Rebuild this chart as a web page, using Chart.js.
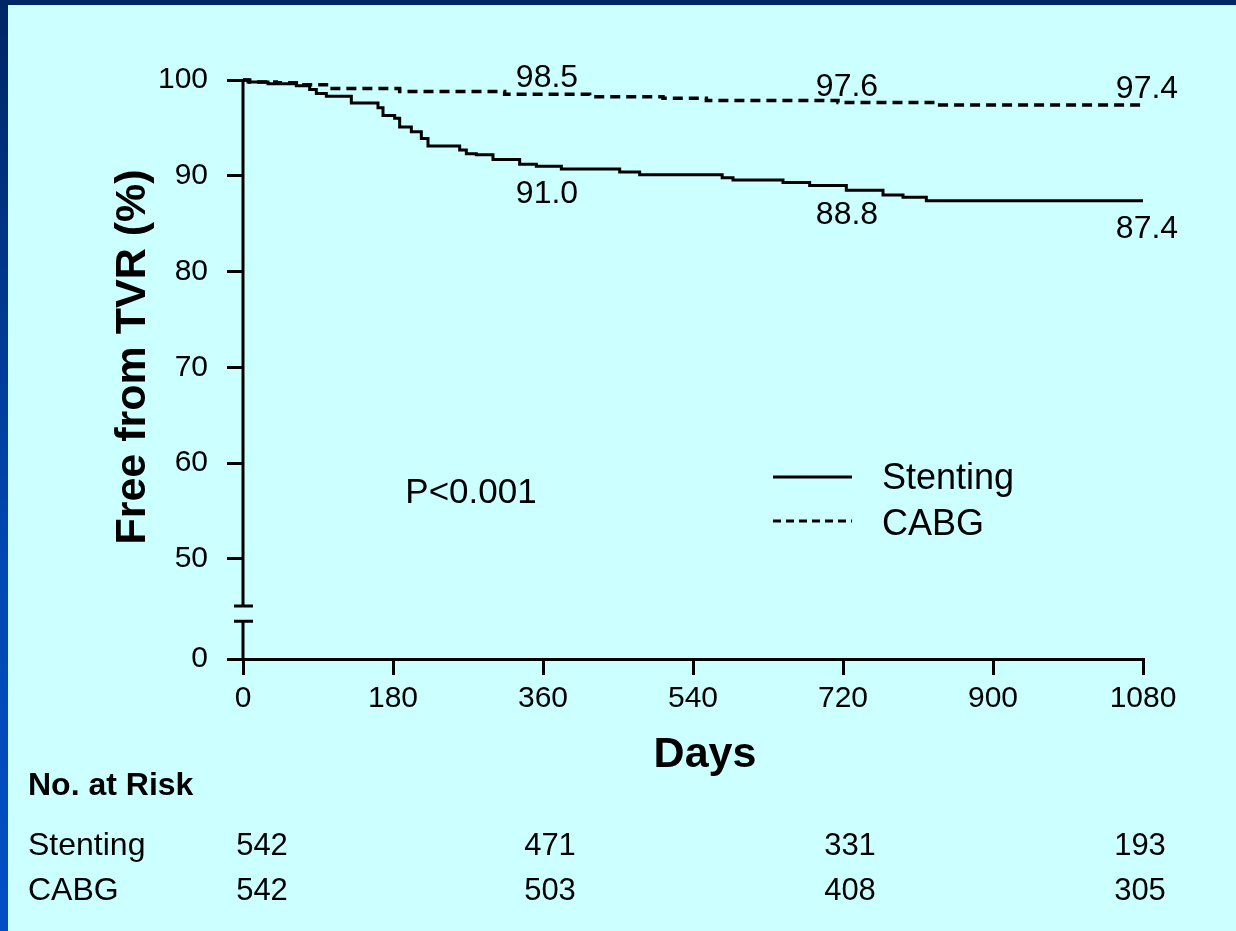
<!DOCTYPE html>
<html>
<head>
<meta charset="utf-8">
<script src="https://cdn.jsdelivr.net/npm/chart.js@4.4.1/dist/chart.umd.min.js"></script>
<style>
    html, body { margin: 0; padding: 0; }
    body { width: 1236px; height: 931px; background: #ccffff; position: relative; overflow: hidden; }
    #topBar { position: absolute; left: 0; top: 0; width: 1236px; height: 5px; background: #002664; z-index: 2; }
    #leftBar { position: absolute; left: 0; top: 0; width: 8px; height: 931px; background: linear-gradient(#002664, #0048b4 60%, #0050c4); z-index: 2; }
    #chart { position: absolute; left: 0; top: 0; }
</style>
</head>
<body>
<div id="topBar"></div>
<div id="leftBar"></div>
<canvas id="chart" width="1236" height="931"></canvas>
<script>
// Kaplan-Meier curves: [day, % free from TVR]
const stentingDays = [0, 6, 30, 64, 80, 88, 100, 130, 162, 168, 182, 188, 202, 214, 222, 260, 268, 280, 300, 332, 352, 382, 452, 476, 575, 588, 648, 680, 724, 768, 792, 820, 1080];
const stentingFree = [100, 99.8, 99.6, 99.4, 99.0, 98.6, 98.3, 97.6, 97.1, 96.3, 96.0, 95.1, 94.6, 93.9, 93.1, 92.7, 92.3, 92.2, 91.7, 91.2, 91.0, 90.7, 90.4, 90.1, 89.8, 89.55, 89.3, 89.0, 88.5, 88.0, 87.75, 87.4, 87.4];

const cabgDays = [0, 8, 40, 64, 104, 188, 314, 416, 504, 556, 714, 836, 1080];
const cabgFree = [100, 99.8, 99.7, 99.5, 99.1, 98.8, 98.5, 98.25, 98.1, 97.85, 97.65, 97.4, 97.4];

// labelled survival values
const labelDays = [360, 720, 1080];
const stentingLabels = [91.0, 88.8, 87.4];
const cabgLabels = [98.5, 97.6, 97.4];

// axis ticks
const xTicks = [0, 180, 360, 540, 720, 900, 1080];
const yTicks = [50, 60, 70, 80, 90, 100];
const yZero = 39.56; // the broken axis puts "0" one step under 50

// numbers at risk
const riskDays = [0, 360, 720, 1080];
const stentingRisk = [542, 471, 331, 193];
const cabgRisk = [542, 503, 408, 305];

const FONT = "'Liberation Sans', Arial, sans-serif";
const riskOffset = [19, 7, 7, -3];

function toPoints(days, vals) {
    return days.map((d, i) => ({ x: d, y: vals[i] }));
}

const extras = {
    id: 'extras',
    afterDraw(chart) {
        const ctx = chart.ctx;
        const xs = chart.scales.x;
        const ys = chart.scales.y;
        const ax = xs.getPixelForValue(0);
        ctx.save();
        ctx.strokeStyle = '#000';
        ctx.lineWidth = 3;

        // y axis line with a break
        const b1 = ys.getPixelForValue(45.1);
        const b2 = ys.getPixelForValue(43.5);
        ctx.beginPath();
        ctx.moveTo(ax, ys.getPixelForValue(100) - 1);
        ctx.lineTo(ax, b1);
        ctx.moveTo(ax, b2);
        ctx.lineTo(ax, ys.getPixelForValue(yZero));
        ctx.moveTo(ax - 9, b1);
        ctx.lineTo(ax + 10, b1);
        ctx.moveTo(ax - 9, b2);
        ctx.lineTo(ax + 10, b2);
        ctx.stroke();

        ctx.fillStyle = '#000';
        ctx.font = '32px ' + FONT;
        ctx.textAlign = 'center';
        ctx.textBaseline = 'middle';
        labelDays.forEach((d, i) => {
            const px = xs.getPixelForValue(d);
            ctx.fillText(cabgLabels[i].toFixed(1), px + 4, ys.getPixelForValue(cabgLabels[i]) - 16);
            ctx.fillText(stentingLabels[i].toFixed(1), px + 4, ys.getPixelForValue(stentingLabels[i]) + 28);
        });

        ctx.font = '35px ' + FONT;
        ctx.fillText('P<0.001', 471, 493);

        // legend
        ctx.beginPath();
        ctx.moveTo(773, 477);
        ctx.lineTo(852, 477);
        ctx.stroke();
        ctx.setLineDash([8, 5]);
        ctx.beginPath();
        ctx.moveTo(773, 521);
        ctx.lineTo(852, 521);
        ctx.stroke();
        ctx.setLineDash([]);
        ctx.textAlign = 'left';
        ctx.font = '36px ' + FONT;
        ctx.fillText('Stenting', 882, 479);
        ctx.fillText('CABG', 882, 525);

        // axis titles
        ctx.font = 'bold 43px ' + FONT;
        ctx.textAlign = 'center';
        ctx.fillText('Days', 705, 755);
        ctx.save();
        ctx.translate(133, 357);
        ctx.rotate(-Math.PI / 2);
        ctx.fillText('Free from TVR (%)', 0, 0);
        ctx.restore();

        // risk table
        ctx.textAlign = 'left';
        ctx.font = 'bold 32px ' + FONT;
        ctx.fillText('No. at Risk', 28, 786);
        ctx.font = '32px ' + FONT;
        ctx.fillText('Stenting', 28, 846);
        ctx.fillText('CABG', 28, 891);
        ctx.font = '31px ' + FONT;
        ctx.textAlign = 'center';
        riskDays.forEach((d, i) => {
            const px = xs.getPixelForValue(d) + riskOffset[i];
            ctx.fillText(String(stentingRisk[i]), px, 846);
            ctx.fillText(String(cabgRisk[i]), px, 891);
        });
        ctx.restore();
    }
};

new Chart(document.getElementById('chart').getContext('2d'), {
    type: 'line',
    data: {
        datasets: [{
            label: 'Stenting',
            data: toPoints(stentingDays, stentingFree),
            borderColor: '#000',
            borderWidth: 3,
            stepped: true,
            pointRadius: 0,
            fill: false,
            clip: 6
        }, {
            label: 'CABG',
            data: toPoints(cabgDays, cabgFree),
            borderColor: '#000',
            borderWidth: 3.5,
            borderDash: [10, 6],
            stepped: true,
            pointRadius: 0,
            fill: false,
            clip: 6
        }]
    },
    options: {
        responsive: false,
        animation: false,
        events: [],
        layout: { padding: { top: 80, right: 93, left: 0, bottom: 0 } },
        plugins: {
            legend: { display: false },
            tooltip: { enabled: false }
        },
        scales: {
            x: {
                type: 'linear',
                min: 0,
                max: 1080,
                afterFit: (scale) => { scale.height = 272; },
                afterBuildTicks: (scale) => { scale.ticks = xTicks.map(v => ({ value: v })); },
                grid: { drawOnChartArea: false, drawTicks: true, tickLength: 16, color: '#000', lineWidth: 3 },
                border: { display: true, color: '#000', width: 3 },
                ticks: {
                    color: '#000',
                    font: { family: FONT, size: 30 },
                    padding: 6,
                    maxRotation: 0,
                    callback: (v) => String(v)
                }
            },
            y: {
                type: 'linear',
                min: yZero,
                max: 100,
                afterFit: (scale) => { scale.width = 243; },
                afterBuildTicks: (scale) => { scale.ticks = [yZero].concat(yTicks).map(v => ({ value: v })); },
                grid: { drawOnChartArea: false, drawTicks: true, tickLength: 16, color: '#000', lineWidth: 3 },
                border: { display: false },
                ticks: {
                    color: '#000',
                    font: { family: FONT, size: 30 },
                    padding: 19,
                    callback: (v) => v < 45 ? '0' : String(v)
                }
            }
        }
    },
    plugins: [extras]
});
</script>
</body>
</html>
